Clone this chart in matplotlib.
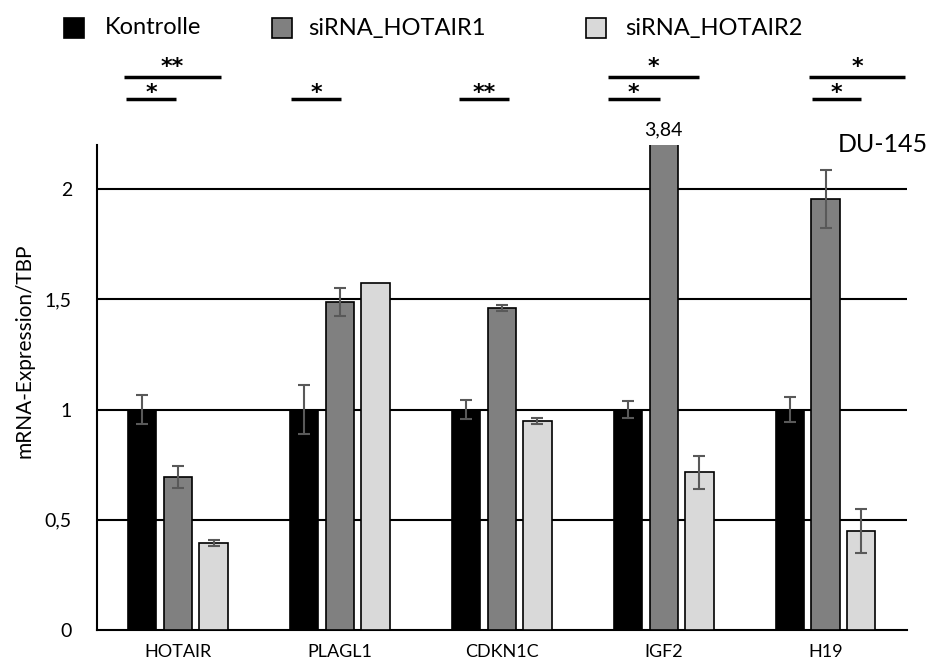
import matplotlib.pyplot as plt
import numpy as np
from matplotlib.lines import Line2D

plt.rcParams['font.family'] = ['Lato', 'DejaVu Sans']

genes = ['HOTAIR', 'PLAGL1', 'CDKN1C', 'IGF2', 'H19']
series = ['Kontrolle', 'siRNA_HOTAIR1', 'siRNA_HOTAIR2']
kontrolle = [1.0, 1.0, 1.0, 1.0, 1.0]
kontrolle_err = [0.065, 0.11, 0.045, 0.04, 0.055]
hotair1 = [0.695, 1.487, 1.46, 3.84, 1.955]
hotair1_err = [0.05, 0.065, 0.012, 0.0, 0.13]
hotair2 = [0.395, 1.574, 0.948, 0.715, 0.45]
hotair2_err = [0.015, 0.0, 0.012, 0.075, 0.1]

# significance bars: (x_start, x_end, y, label)
sig = [(-0.33, 0.265, 2.51, '**'), (-0.32, -0.01, 2.41, '*'),
       (0.70, 1.01, 2.41, '*'),
       (1.735, 2.045, 2.41, '**'),
       (2.655, 3.22, 2.51, '*'), (2.655, 2.975, 2.41, '*'),
       (3.90, 4.49, 2.51, '*'), (3.915, 4.22, 2.41, '*')]

colors = ['black', '#808080', '#d9d9d9']

fig = plt.figure(figsize=(9.27, 6.71), dpi=100)
ax = fig.add_axes([0.1046, 0.0611, 0.8734, 0.7229])

x = np.arange(len(genes))
w = 0.175
off = 0.22
for vals, errs, c, dx in zip([kontrolle, hotair1, hotair2],
                             [kontrolle_err, hotair1_err, hotair2_err],
                             colors, [-off, 0, off]):
    ax.bar(x + dx, vals, w, color=c, edgecolor='black', linewidth=1.2, zorder=3)
    e = np.array(errs)
    m = e > 0
    ax.errorbar((x + dx)[m], np.array(vals)[m], yerr=e[m], fmt='none',
                ecolor='#595959', elinewidth=1.5, capsize=4, capthick=1.5, zorder=4)

for yv in [0.5, 1, 1.5, 2]:
    ax.axhline(yv, color='black', linewidth=1.5, zorder=1)

ax.set_xlim(-0.5, 4.5)
ax.set_ylim(0, 2.2)
ax.set_yticks([0, 0.5, 1, 1.5, 2])
ax.set_yticklabels(['0', '0,5', '1', '1,5', '2'], fontsize=14)
ax.set_xticks(x)
ax.set_xticklabels(genes, fontsize=13)
ax.tick_params(length=0, pad=10)
ax.tick_params(axis='y', pad=18)
for s in ['top', 'right']:
    ax.spines[s].set_visible(False)
ax.spines['left'].set_linewidth(1.5)
ax.spines['bottom'].set_linewidth(1.5)
ax.set_ylabel('mRNA-Expression/TBP', fontsize=15)
ax.yaxis.set_label_coords(-0.077, 0.575)

ax.text(3, 2.23, '3,84', ha='center', va='bottom', fontsize=14, clip_on=False)
ax.text(4.63, 2.2, 'DU-145', ha='right', va='center', fontsize=18)

for x0, x1, yv, lab in sig:
    ax.plot([x0, x1], [yv, yv], color='black', linewidth=2.5, clip_on=False,
            solid_capstyle='butt')
    dy = 0.014 if yv > 2.45 else -0.002
    ax.text((x0 + x1) / 2, yv + dy, lab, ha='center', va='baseline',
            fontsize=16, fontweight='bold', family='DejaVu Sans', clip_on=False)

# legend, placed by hand to match the spacing
W, H = 927, 671
mark_x = [74, 282, 596]
text_x = [105, 308, 625]
ly = 1 - 28 / H
for c, lab, mx, tx in zip(colors, series, mark_x, text_x):
    fig.add_artist(Line2D([mx / W], [ly], marker='s', linestyle='none',
                          markersize=14, markerfacecolor=c,
                          markeredgecolor='black', markeredgewidth=1.2))
    fig.text(tx / W, ly, lab, ha='left', va='center', fontsize=17)

fig.savefig('out.png', dpi=100)
